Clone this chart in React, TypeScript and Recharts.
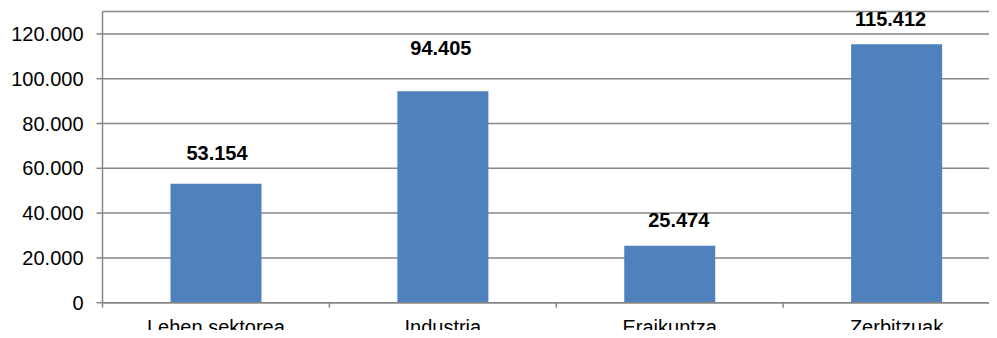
import React from 'react';
import { BarChart, Bar, XAxis, YAxis, CartesianGrid, LabelList } from 'recharts';

const sectors = ['Lehen sektorea', 'Industria', 'Eraikuntza', 'Zerbitzuak'];
const workers = [53154, 94405, 25474, 115412];
const yTicks = [0, 20000, 40000, 60000, 80000, 100000, 120000];

// the labels were hand-placed in the original, so nudge each one (px)
const labelLift = [24, 36, 19, 18];
const labelShift = [1, -2, 9, -6];

const data = sectors.map((name, i) => ({ name, value: workers[i] }));

const fmt = (v: number) => String(v).replace(/\B(?=(\d{3})+(?!\d))/g, '.');

const GRID = '#868686';
const FONT = '"Liberation Sans", Arial, sans-serif';

const CHART_W = 1010;
const Y_AXIS_W = 102.5;
const HALF_BAND = (CHART_W - Y_AXIS_W) / sectors.length / 2;

const CategoryTick = (props: any) => {
    const { x, y, payload } = props;
    const edge = x - HALF_BAND;
    return (
        <g>
            <line x1={edge} x2={edge} y1={y} y2={y + 5} stroke={GRID} strokeWidth={1.5} />
            <text x={x} y={y + 31} textAnchor="middle" fontSize={20} fill="#000" fontFamily={FONT}>
                {payload.value}
            </text>
        </g>
    );
};

const ValueLabel = (props: any) => {
    const { x, y, width, value, index } = props;
    return (
        <text
            x={x + width / 2 + labelShift[index]}
            y={y - labelLift[index]}
            textAnchor="middle"
            fontSize={20}
            fontWeight="bold"
            fill="#000"
            fontFamily={FONT}
        >
            {fmt(value)}
        </text>
    );
};

const App: React.FC = () => {
    return (
        <div style={{ margin: -8, width: 997, height: 338, overflow: 'hidden', background: '#fff' }}>
            <BarChart
                width={CHART_W}
                height={338}
                data={data}
                margin={{ top: 11.5, right: 0, left: 0, bottom: 0 }}
            >
                <CartesianGrid vertical={false} stroke={GRID} strokeWidth={1.5} />
                <XAxis
                    dataKey="name"
                    height={35.3}
                    axisLine={{ stroke: GRID, strokeWidth: 1.5 }}
                    tickLine={false}
                    tickSize={0}
                    tickMargin={0}
                    tick={<CategoryTick />}
                    interval={0}
                />
                <YAxis
                    width={Y_AXIS_W}
                    domain={[0, 130000]}
                    ticks={yTicks}
                    tickFormatter={fmt}
                    axisLine={{ stroke: GRID, strokeWidth: 1.5 }}
                    tickLine={{ stroke: GRID, strokeWidth: 1.5 }}
                    tickSize={6}
                    tickMargin={13}
                    tick={{ fontSize: 20, fill: '#000', fontFamily: FONT }}
                    allowDataOverflow
                />
                <Bar dataKey="value" fill="#4f81bd" barSize={91} isAnimationActive={false}>
                    <LabelList dataKey="value" content={<ValueLabel />} />
                </Bar>
            </BarChart>
        </div>
    );
};

export default App;
